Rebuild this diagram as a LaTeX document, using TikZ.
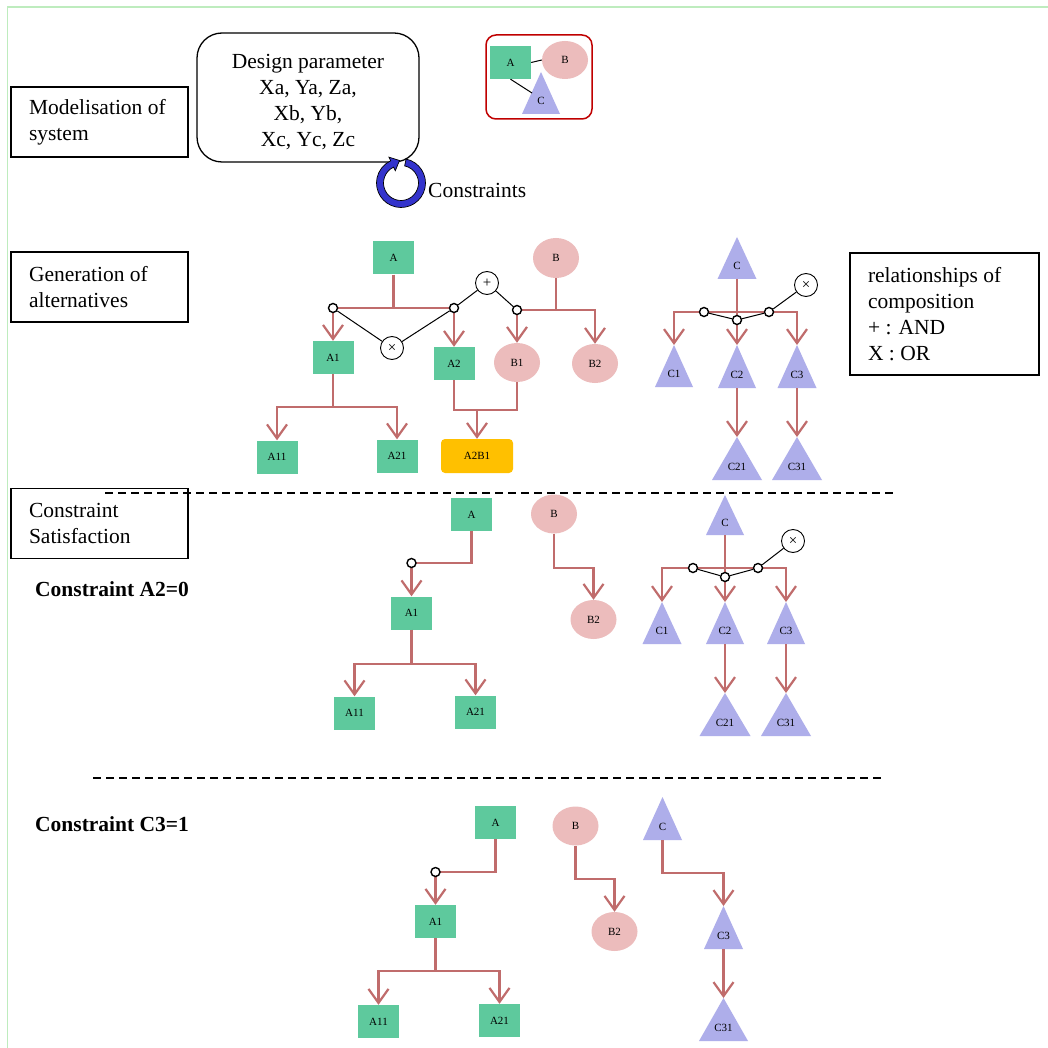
\documentclass[tikz,border=0pt]{standalone}
\usepackage{fontspec}
\setmainfont{Liberation Serif}
\usetikzlibrary{arrows.meta,shapes.geometric,calc}
\definecolor{gfill}{RGB}{94,201,157}
\definecolor{pfill}{RGB}{236,188,188}
\definecolor{tfill}{RGB}{174,174,234}
\definecolor{rline}{RGB}{192,108,108}
\definecolor{orng}{RGB}{255,192,0}
\definecolor{ringblue}{RGB}{51,51,204}
\definecolor{framered}{RGB}{192,0,0}
\definecolor{framegreen}{RGB}{190,236,190}
\newcommand\myBig{\fontsize{21.5}{26}\selectfont}
\newcommand\myBold{\fontsize{21.5}{26}\selectfont\bfseries}
\newcommand\myLbl{\fontsize{11}{13}\selectfont}
\newcommand\myOp{\fontsize{15}{17}\selectfont}
\tikzset{
  gbox/.style={rectangle, fill=gfill, minimum width=41pt, minimum height=33pt, inner sep=0pt, font=\myLbl},
  pell/.style={ellipse, fill=pfill, minimum width=46pt, minimum height=39pt, inner sep=0pt, font=\myLbl},
  obox/.style={rectangle, rounded corners=4pt, fill=orng, minimum width=72pt, minimum height=34pt, inner sep=0pt, font=\myLbl},
  lbl/.style={inner sep=0pt, font=\myLbl},
  conn/.style={draw=rline, line width=2.2pt},
  arr/.style={conn, -{Straight Barb[length=14pt,width=20pt]}},
  oc/.style={circle, draw=black, fill=white, line width=1.4pt, minimum size=9pt, inner sep=0pt},
  opc/.style={circle, draw=black, fill=white, line width=0.9pt, minimum size=23pt, inner sep=0pt, font=\myOp},
  blk/.style={draw=black, line width=1pt},
  lbox/.style={draw=black, line width=1.3pt, rectangle, inner xsep=18pt, inner ysep=0pt, align=flush left, font=\myBig},
  dashline/.style={draw=black, line width=1.2pt, dash pattern=on 8pt off 5pt},
  boldlbl/.style={font=\myBold, anchor=west, inner sep=0pt}
}
\newcommand\mytri[6]{%
  \fill[tfill] (#2,#3) -- (#2+#5,#4) -- (#2-#5,#4) -- cycle;
  \coordinate (#1t) at (#2,#3);
  \coordinate (#1b) at (#2,#4);
  \node[lbl] (#1) at (#2,{#4-0.3*(#4-#3)}) {#6};}
\begin{document}
\begin{tikzpicture}[x=1pt,y=-1pt]
\useasboundingbox (0,0) rectangle (1048,1048);
\fill[white] (0,0) rectangle (1048,1048);
% frame
\coordinate (f1) at (7.5,1048);
\coordinate (f2) at (7.5,7);
\coordinate (f3) at (1048,7);
\draw[framegreen, line width=1.5pt] (f1) -- (f2) -- (f3);

% ===== Section 1 =====
\node[lbox, minimum width=177pt, minimum height=70pt, text width=141pt] (mod) at (99.5,122) {Modelisation of\\system};
\node[draw, rounded corners=25pt, line width=1.3pt, minimum width=222pt, minimum height=129pt] (dp) at (308,97.5) {};
\node[font=\myBig, align=center, inner sep=0pt] (dptext) at (308,102) {Design parameter\\Xa, Ya, Za,\\Xb, Yb,\\Xc, Yc, Zc};
\coordinate (ring) at (401,183);
\filldraw[fill=ringblue, draw=black, line width=0.7pt]
  ($(ring)+(-78:24.5)$) arc[start angle=-78, end angle=245, radius=24.5]
  -- ($(ring)+(245:28.5)$) -- (399.5,160.5) -- ($(ring)+(245:13.5)$)
  -- ($(ring)+(245:17.5)$) arc[start angle=245, end angle=-78, radius=17.5] -- cycle;
\node[font=\myBig, anchor=west, inner sep=0pt] (cons) at (428,190) {Constraints};
% system
\node[draw=framered, rounded corners=10pt, line width=1.5pt, minimum width=106pt, minimum height=84pt] (sys) at (539,77) {};
\node[gbox] (Asys) at (510.5,62.5) {A};
\node[pell, minimum height=38pt] (Bsys) at (565,60) {B};
\mytri{Csys}{541}{72}{114}{19}{C}
\coordinate (CsysE) at (532,93);
\draw[blk] (Asys.east) -- (Bsys.west);
\draw[blk] (Asys.south) -- (CsysE);

% ===== Section 2: generation =====
\node[lbox, minimum width=177pt, minimum height=70pt, text width=141pt] (gen) at (99.5,287) {Generation of\\alternatives};
\node[gbox] (A) at (393.5,258) {A};
\node[pell, minimum height=40pt] (B) at (556,258) {B};
\node[gbox] (A1) at (333,357.5) {A1};
\node[gbox] (A2) at (454,363.5) {A2};
\node[pell] (B1) at (517,362.5) {B1};
\node[pell] (B2) at (595,363.5) {B2};
\node[gbox] (A11) at (277,457) {A11};
\node[gbox] (A21) at (397,456) {A21};
\node[obox] (A2B1) at (477,456) {A2B1};
\coordinate (pL) at (333,308);
\coordinate (pR) at (454,308);
\coordinate (pB) at (517,310);
\coordinate (jAB) at (477,410);
\draw[conn] (A.south) -- (A.south |- pL);
\draw[conn] (pL) -- (pR);
\draw[arr] (pL) -- (A1.north);
\draw[arr] (pR) -- (A2.north);
\draw[conn] (B.south) -- (B.south |- pB);
\draw[arr] (pB) -| (B2.north);
\draw[arr] (pB) -- (B1.north);
\draw[arr] (A1.south) -- ++(0,33) -| (A11.north);
\draw[arr] (A1.south) -- ++(0,33) -| (A21.north);
\draw[conn] (A2.south) |- (jAB) -| (B1.south);
\draw[arr] (jAB) -- (A2B1.north);
\node[oc] (oL) at (pL) {};
\node[oc] (oR) at (pR) {};
\node[oc] (oB) at (pB) {};
\node[opc] (times) at (392,348) {×};
\node[opc] (plus) at (487,283) {+};
\draw[blk] (oL) -- (times) -- (oR) -- (plus) -- (oB);

% C tree
\mytri{C}{737}{237}{279}{19.5}{C}
\mytri{C1}{674}{345}{387}{19}{C1}
\mytri{C2}{737}{345}{388}{19}{C2}
\mytri{C3}{797}{345}{388}{19.5}{C3}
\mytri{C21}{737}{437}{480}{25}{C21}
\mytri{C31}{797}{437}{480}{25}{C31}
\coordinate (jC) at (737,312);
\draw[arr] (Cb) -- (C2t);
\draw[arr] (jC) -| (C1t);
\draw[arr] (jC) -| (C3t);
\draw[arr] (C2b) -- (C21t);
\draw[arr] (C3b) -- (C31t);
\node[oc] (oc1) at (704,312) {};
\node[oc] (oc2) at (737,320) {};
\node[oc] (oc3) at (769,312) {};
\node[opc] (xc) at (806,285) {×};
\draw[blk] (oc1) -- (oc2) -- (oc3) -- (xc);

\node[lbox, minimum width=189pt, minimum height=122pt, text width=153pt] (rel) at (944.5,314) {relationships of\\composition\\+ : AND\\X : OR};

% dashed 1
\coordinate (d1a) at (105,493);
\coordinate (d1b) at (893,493);
\draw[dashline] (d1a) -- (d1b);

% ===== Section 3: constraint A2=0 =====
\node[lbox, minimum width=177pt, minimum height=70pt, text width=141pt] (cs) at (99.5,523.5) {Constraint\\Satisfaction};
\node[boldlbl] (ca2) at (35,589) {Constraint A2=0};
\node[gbox] (sA) at (471.5,514.5) {A};
\node[pell] (sB) at (554,514) {B};
\node[gbox] (sA1) at (411.5,613) {A1};
\node[gbox] (sA11) at (354.5,713) {A11};
\node[gbox] (sA21) at (475.5,712) {A21};
\node[pell] (sB2) at (593.5,619.5) {B2};
\coordinate (psA) at (411.5,563);
\draw[conn] (sA.south) |- (psA);
\draw[arr] (psA) -- (sA1.north);
\draw[arr] (sA1.south) -- ++(0,34) -| (sA11.north);
\draw[arr] (sA1.south) -- ++(0,34) -| (sA21.north);
\draw[arr] (sB.south) -- ++(0,34) -| (sB2.north);
\node[oc] (osA) at (psA) {};

\mytri{sC}{725}{495}{535}{19}{C}
\mytri{sC1}{662}{602}{644}{19.5}{C1}
\mytri{sC2}{725}{602}{644}{19}{C2}
\mytri{sC3}{786}{602}{644}{19}{C3}
\mytri{sC21}{725}{693}{736}{25.5}{C21}
\mytri{sC31}{786}{693}{736}{25}{C31}
\coordinate (jsC) at (725,568);
\draw[arr] (sCb) -- (sC2t);
\draw[arr] (jsC) -| (sC1t);
\draw[arr] (jsC) -| (sC3t);
\draw[arr] (sC2b) -- (sC21t);
\draw[arr] (sC3b) -- (sC31t);
\node[oc] (osc1) at (693,568) {};
\node[oc] (osc2) at (725,577) {};
\node[oc] (osc3) at (758,568) {};
\node[opc] (xsc) at (793,541) {×};
\draw[blk] (osc1) -- (osc2) -- (osc3) -- (xsc);

% dashed 2
\coordinate (d2a) at (93,778);
\coordinate (d2b) at (882,778);
\draw[dashline] (d2a) -- (d2b);

% ===== Section 4: constraint C3=1 =====
\node[boldlbl] (cc3) at (35,824) {Constraint C3=1};
\node[gbox] (tA) at (495.5,822.5) {A};
\node[pell] (tB) at (575.5,826) {B};
\node[gbox] (tA1) at (435.5,921.5) {A1};
\node[gbox] (tA11) at (378.5,1021.5) {A11};
\node[gbox] (tA21) at (499.5,1020.5) {A21};
\node[pell] (tB2) at (614.5,931.5) {B2};
\coordinate (ptA) at (435.5,872);
\draw[conn] (tA.south) |- (ptA);
\draw[arr] (ptA) -- (tA1.north);
\draw[arr] (tA1.south) -- ++(0,33) -| (tA11.north);
\draw[arr] (tA1.south) -- ++(0,33) -| (tA21.north);
\draw[arr] (tB.south) -- ++(0,33) -| (tB2.north);
\node[oc] (otA) at (ptA) {};

\mytri{tC}{662.5}{797}{840}{19.5}{C}
\mytri{tC3}{723.5}{906}{949}{19.5}{C3}
\mytri{tC31}{723.5}{998}{1041}{24.5}{C31}
\draw[arr] (tCb) -- ++(0,33) -| (tC3t);
\draw[arr] (tC3b) -- (tC31t);
\end{tikzpicture}
\end{document}
